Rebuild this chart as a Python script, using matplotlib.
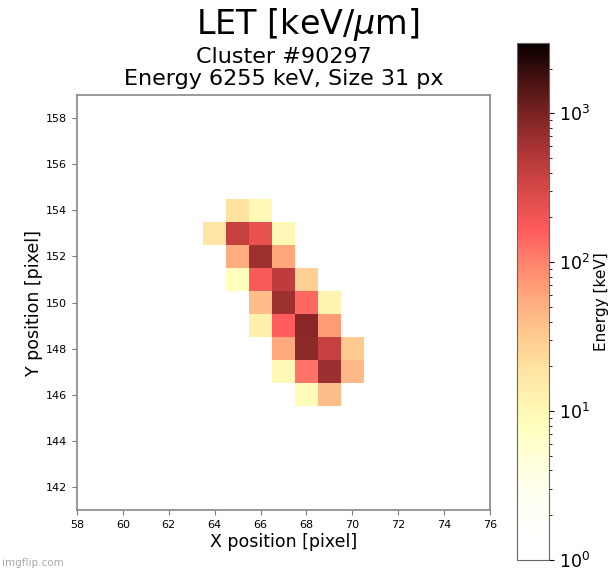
import numpy as np
import matplotlib
matplotlib.use('Agg')
import matplotlib.pyplot as plt
from matplotlib.colors import LogNorm, ListedColormap

# Cluster pixels: column, row and deposited energy in keV
px_x = [65, 66,
        64, 65, 66, 67,
        65, 66, 67,
        65, 66, 67, 68,
        66, 67, 68, 69,
        66, 67, 68, 69,
        67, 68, 69, 70,
        67, 68, 69, 70,
        68, 69]
px_y = [154, 154,
        153, 153, 153, 153,
        152, 152, 152,
        151, 151, 151, 151,
        150, 150, 150, 150,
        149, 149, 149, 149,
        148, 148, 148, 148,
        147, 147, 147, 147,
        146, 146]
px_e = [20, 10,
        18, 400, 230, 10,
        55, 650, 60,
        8, 180, 445, 30,
        40, 650, 140, 12,
        13, 160, 850, 70,
        58, 810, 400, 32,
        10, 120, 680, 45,
        9, 40]

cluster_id = 90297
e_min, e_max = 1, 2950
x_range = (58, 76)
y_range = (141, 159)

# hot_r faded towards white at the low end
t = np.linspace(0, 1, 256)
base = plt.get_cmap('hot_r')(t)[:, :3]
rgb = base * t[:, None] + (1 - t[:, None])
cmap = ListedColormap(rgb)
cmap.set_bad('white')
cmap.set_under('white')

# fill the bounding box of the cluster
x0, x1 = min(px_x), max(px_x)
y0, y1 = min(px_y), max(px_y)
grid = np.full((y1 - y0 + 1, x1 - x0 + 1), np.nan)
for xx, yy, ee in zip(px_x, px_y, px_e):
    grid[yy - y0, xx - x0] = ee
xedges = np.arange(x0, x1 + 2) - 0.5
yedges = np.arange(y0, y1 + 2) - 0.5

fig = plt.figure(figsize=(6.16, 5.71), dpi=100)
ax = fig.add_axes([0.125, 0.1068, 0.6705, 0.7268])
cax = fig.add_axes([0.839, 0.019, 0.052, 0.905])

mesh = ax.pcolormesh(xedges, yedges, np.ma.masked_invalid(grid),
                     cmap=cmap, norm=LogNorm(vmin=e_min, vmax=e_max))

ax.set_xlim(*x_range)
ax.set_ylim(*y_range)
ax.set_xticks(np.arange(58, 77, 2))
ax.set_yticks(np.arange(142, 159, 2))
ax.tick_params(labelsize=8, color='#777777')
for sp in ax.spines.values():
    sp.set_color('#888888')
    sp.set_linewidth(1.2)
ax.set_xlabel('X position [pixel]', fontsize=12.5, labelpad=2)
ax.set_ylabel('Y position [pixel]', fontsize=12.5, labelpad=2)
ax.set_title('Cluster #%d\nEnergy %d keV, Size %d px' % (cluster_id, sum(px_e), len(px_e)),
             fontsize=16, pad=7, linespacing=1.16)

fig.suptitle('LET [keV/$\\mu$m]', fontsize=24, y=0.99)

cb = fig.colorbar(mesh, cax=cax)
cb.outline.set_edgecolor('#666666')
cax.tick_params(labelsize=12.5)
cax.set_ylabel('Energy [keV]', fontsize=11, labelpad=3)

fig.text(0.004, 0.008, 'imgflip.com', fontsize=7.5, color='#aaaaaa')

fig.savefig('out.png', dpi=100)
